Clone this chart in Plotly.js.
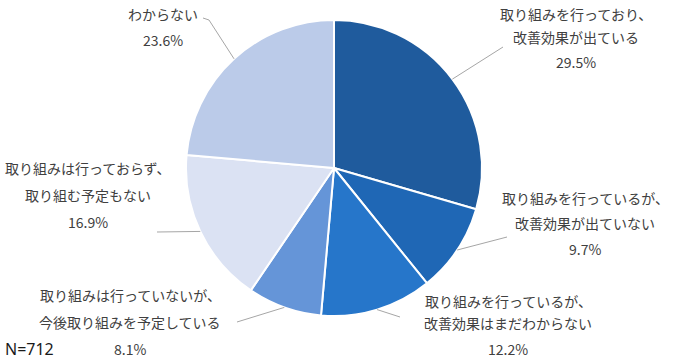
<!DOCTYPE html>
<html>
<head>
<meta charset="utf-8">
<script src="https://cdn.plot.ly/plotly-3.0.1.min.js"></script>
<style>html,body{margin:0;padding:0;background:#fff;}#chart{width:674px;height:360px;}</style>
</head>
<body>
<div id="chart"></div>
<script>
// ---- data ----
const categories = [
  "取り組みを行っており、\n改善効果が出ている",
  "取り組みを行っているが、\n改善効果が出ていない",
  "取り組みを行っているが、\n改善効果はまだわからない",
  "取り組みは行っていないが、\n今後取り組みを予定している",
  "取り組みは行っておらず、\n取り組む予定もない",
  "わからない"
];
const shares = [29.5, 9.7, 12.2, 8.1, 16.9, 23.6];
const sampleNote = "N=712";

// ---- styling / layout (not data) ----
const colors = ["#1F5B9D", "#1F67B5", "#2676CA", "#6595D8", "#DBE2F3", "#BBCBE9"];
const W = 674, H = 360;
const cx = 334, cy = 168, R = 148;
// label line positions: center x, and y of each text line (pixels)
const labelPos = [
  {x: 576, y: [14, 37, 62]},
  {x: 585, y: [198, 223, 249]},
  {x: 508, y: [301, 323, 349]},
  {x: 130, y: [295, 322, 349]},
  {x: 88,  y: [168, 195, 222]},
  {x: 163, y: [14, 40]}
];
// leader line waypoints after the slice edge (pixels)
const leaderPts = [
  [[503, 47]],
  [[507, 237]],
  [[400, 317]],
  [[237, 322]],
  [[157, 232]],
  [[209, 20], [203, 18]]
];

const px = x => x / W;
const py = y => 1 - y / H;

const total = shares.reduce((a, b) => a + b, 0);
const annotations = [];
const shapes = [];
let cum = 0;
shares.forEach((v, i) => {
  const theta = (cum + v / 2) / total * 2 * Math.PI;
  cum += v;
  const sx = cx + R * Math.sin(theta);
  const sy = cy - R * Math.cos(theta);
  let prev = [sx, sy];
  leaderPts[i].forEach(p => {
    shapes.push({type: 'line', xref: 'paper', yref: 'paper',
      x0: px(prev[0]), y0: py(prev[1]), x1: px(p[0]), y1: py(p[1]),
      line: {color: '#A6A6A6', width: 1}});
    prev = p;
  });
  const lines = categories[i].split("\n").concat([v.toFixed(1) + "%"]);
  lines.forEach((t, j) => {
    annotations.push({xref: 'paper', yref: 'paper', x: px(labelPos[i].x), y: py(labelPos[i].y[j]),
      xanchor: 'center', yanchor: 'middle', showarrow: false, text: t,
      font: {family: '"Noto Sans CJK JP", "Noto Sans", sans-serif', size: 14, color: '#404040'}});
  });
});
annotations.push({xref: 'paper', yref: 'paper', x: px(3), y: py(349), xanchor: 'left', yanchor: 'middle',
  showarrow: false, text: sampleNote,
  font: {family: '"Noto Sans", "Noto Sans CJK JP", sans-serif', size: 16, color: '#1a1a1a'}});

const trace = {
  type: 'pie',
  values: shares,
  labels: categories.map(c => c.replace("\n", "")),
  sort: false,
  direction: 'clockwise',
  rotation: 0,
  textinfo: 'none',
  hoverinfo: 'label+percent',
  marker: {colors: colors, line: {color: '#FFFFFF', width: 2}},
  domain: {x: [px(cx - R), px(cx + R)], y: [py(cy + R), py(cy - R)]},
  showlegend: false
};

Plotly.newPlot('chart', [trace], {
  width: W, height: H,
  margin: {l: 0, r: 0, t: 0, b: 0},
  paper_bgcolor: '#FFFFFF',
  showlegend: false,
  annotations: annotations,
  shapes: shapes
}, {displayModeBar: false, staticPlot: true});
</script>
</body>
</html>
